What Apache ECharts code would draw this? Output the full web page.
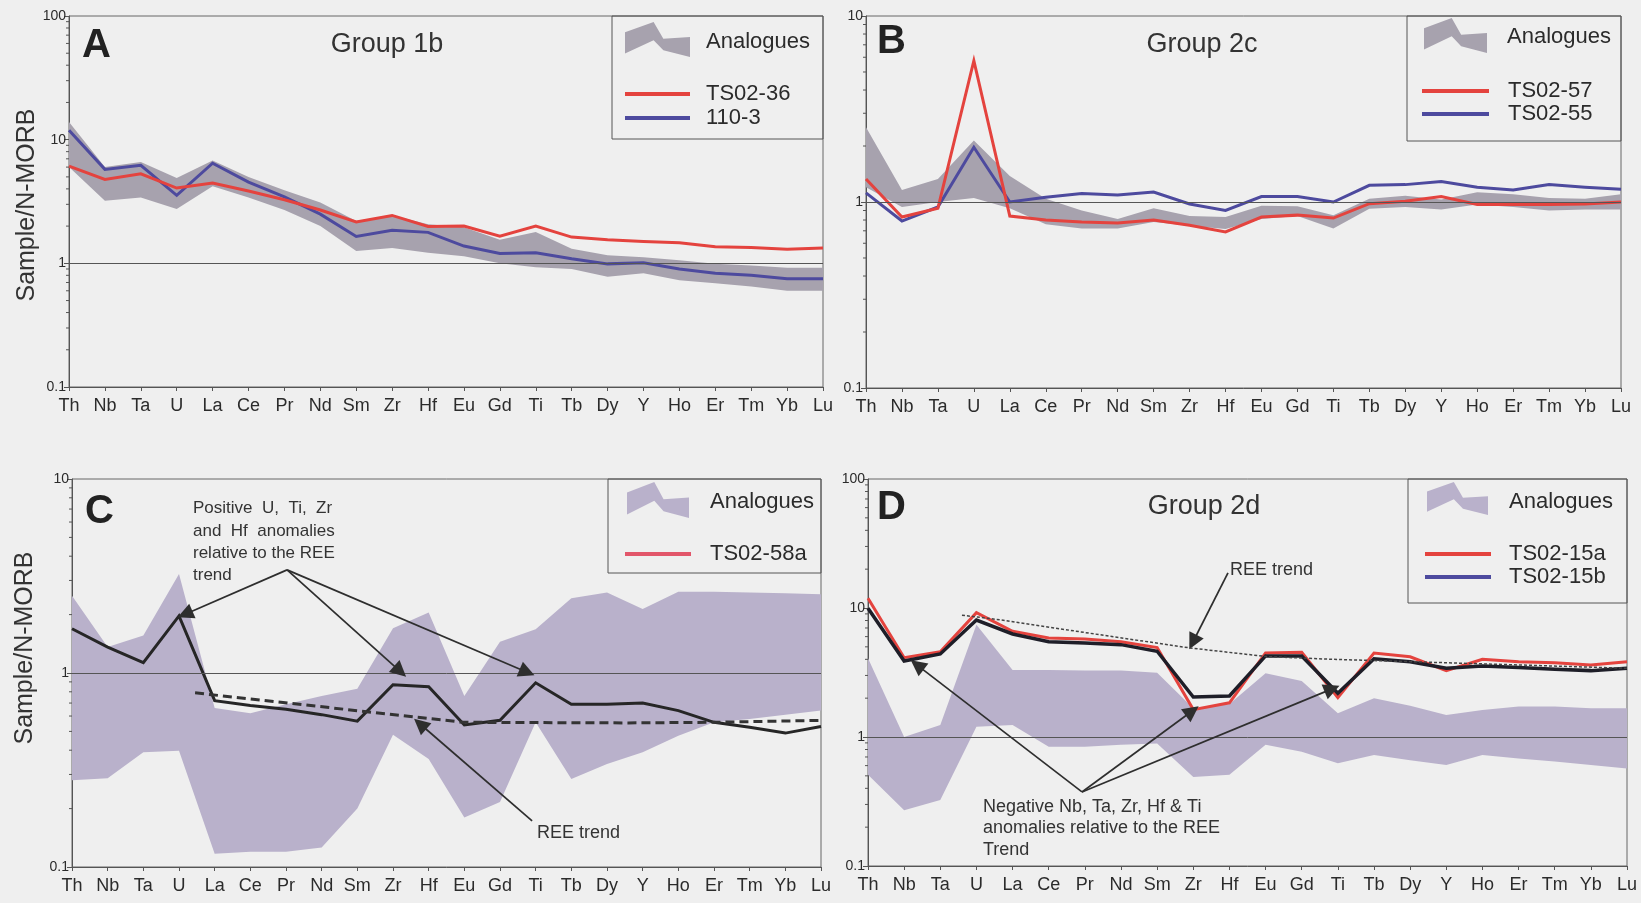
<!DOCTYPE html>
<html>
<head>
<meta charset="utf-8">
<script src="https://cdn.jsdelivr.net/npm/echarts@6/dist/echarts.min.js"></script>
<style>
  html, body { margin: 0; padding: 0; background: #efefef; }
  #wrap { position: relative; width: 1641px; height: 903px; overflow: hidden; }
  .panel { position: absolute; }
</style>
</head>
<body>
<div id="wrap">
  <div id="pA" class="panel" style="left:0;top:0;width:840px;height:435px"></div>
  <div id="pB" class="panel" style="left:830px;top:0;width:811px;height:435px"></div>
  <div id="pC" class="panel" style="left:0;top:440px;width:840px;height:463px"></div>
  <div id="pD" class="panel" style="left:830px;top:440px;width:811px;height:463px"></div>
</div>
<script>
// Element order of the N-MORB normalised spider diagrams
const elements = ['Th','Nb','Ta','U','La','Ce','Pr','Nd','Sm','Zr','Hf','Eu','Gd','Ti','Tb','Dy','Y','Ho','Er','Tm','Yb','Lu'];

// Log-axis minor tick values
const minorTicks3 = [0.2,0.3,0.4,0.5,0.6,0.7,0.8,0.9,2,3,4,5,6,7,8,9,20,30,40,50,60,70,80,90];
const minorTicks2 = [0.2,0.3,0.4,0.5,0.6,0.7,0.8,0.9,2,3,4,5,6,7,8,9];

// A - Group 1b
const aAnalogueUpper = [13.9, 6.0, 6.6, 4.9, 6.8, 5.0, 3.9, 3.1, 2.2, 2.45, 2.07, 1.96, 1.55, 1.79, 1.31, 1.16, 1.12, 1.06, 0.99, 0.96, 0.92, 0.92];
const aAnalogueLower = [6.0, 3.2, 3.4, 2.75, 4.2, 3.4, 2.7, 2.0, 1.26, 1.33, 1.22, 1.14, 1.0, 0.93, 0.9, 0.78, 0.83, 0.73, 0.69, 0.65, 0.6, 0.6];
const aTS0236 = [6.1, 4.77, 5.3, 4.06, 4.46, 3.84, 3.27, 2.7, 2.16, 2.44, 1.99, 2.0, 1.66, 2.0, 1.63, 1.55, 1.5, 1.47, 1.36, 1.34, 1.3, 1.33];
const a1103 = [11.9, 5.75, 6.2, 3.55, 6.45, 4.54, 3.44, 2.5, 1.65, 1.85, 1.78, 1.38, 1.2, 1.22, 1.09, 0.99, 1.01, 0.9, 0.83, 0.8, 0.75, 0.75];

// B - Group 2c
const bAnalogueUpper = [2.52, 1.16, 1.33, 2.14, 1.38, 1.04, 0.9, 0.81, 0.925, 0.84, 0.83, 0.955, 0.95, 0.85, 1.04, 1.08, 1.03, 1.13, 1.1, 1.05, 1.04, 1.1];
const bAnalogueLower = [1.2, 0.94, 1.0, 1.05, 0.925, 0.76, 0.72, 0.72, 0.78, 0.746, 0.716, 0.81, 0.84, 0.72, 0.92, 0.94, 0.91, 0.97, 0.94, 0.9, 0.91, 0.91];
const bTS0257 = [1.33, 0.83, 0.925, 5.75, 0.84, 0.80, 0.78, 0.77, 0.80, 0.75, 0.69, 0.83, 0.85, 0.82, 0.98, 1.01, 1.07, 0.97, 0.97, 0.97, 0.975, 1.0];
const bTS0255 = [1.12, 0.79, 0.94, 1.97, 1.0, 1.06, 1.11, 1.09, 1.13, 0.975, 0.9, 1.07, 1.07, 1.0, 1.23, 1.24, 1.29, 1.2, 1.16, 1.24, 1.2, 1.17];

// C - TS02-58a
const cAnalogueUpper = [2.5, 1.36, 1.56, 3.24, 0.66, 0.62, 0.69, 0.76, 0.83, 1.7, 2.05, 0.76, 1.45, 1.68, 2.43, 2.6, 2.14, 2.62, 2.62, 2.6, 2.58, 2.55];
const cAnalogueLower = [0.28, 0.287, 0.39, 0.397, 0.117, 0.12, 0.12, 0.126, 0.2, 0.48, 0.36, 0.18, 0.216, 0.557, 0.284, 0.34, 0.39, 0.475, 0.557, 0.58, 0.61, 0.64];
const cTS0258a = [1.69, 1.36, 1.13, 1.97, 0.72, 0.68, 0.65, 0.61, 0.565, 0.87, 0.85, 0.54, 0.57, 0.89, 0.69, 0.69, 0.70, 0.64, 0.557, 0.525, 0.49, 0.53];
// REE trend: [element position, value]
const cReeTrend = [[3.45, 0.79], [10.97, 0.557], [15.6, 0.553], [18, 0.557], [21, 0.57]];
// Annotation arrows: [from, to] in [element position, value]
const cArrows = [
  [[6.03, 3.4], [3.17, 2.01]],
  [[6.03, 3.4], [9.2, 1.02]],
  [[6.03, 3.4], [12.76, 1.01]],
  [[12.9, 0.173], [9.76, 0.546]]
];

// D - Group 2d
const dAnalogueUpper = [4.07, 1.0, 1.24, 7.4, 3.31, 3.3, 3.28, 3.28, 3.15, 1.67, 1.8, 3.12, 2.72, 1.53, 2.0, 1.75, 1.48, 1.62, 1.72, 1.72, 1.67, 1.67];
const dAnalogueLower = [0.51, 0.27, 0.325, 1.2, 1.24, 0.84, 0.84, 0.87, 0.89, 0.49, 0.51, 0.87, 0.77, 0.625, 0.725, 0.66, 0.607, 0.725, 0.68, 0.645, 0.607, 0.57];
const dTS0215a = [11.9, 4.12, 4.58, 9.2, 6.6, 5.85, 5.75, 5.48, 4.94, 1.63, 1.84, 4.48, 4.53, 2.02, 4.47, 4.19, 3.27, 4.0, 3.83, 3.77, 3.61, 3.83];
const dTS0215b = [9.95, 3.88, 4.4, 8.07, 6.29, 5.48, 5.35, 5.2, 4.62, 2.04, 2.08, 4.25, 4.25, 2.18, 4.04, 3.83, 3.41, 3.55, 3.45, 3.35, 3.27, 3.41];
const dReeTrend = [[2.6, 8.8], [3.65, 8.1], [6.42, 6.2], [8.91, 4.9], [11.04, 4.2], [12.87, 4.0], [16.46, 3.73], [21, 3.41]];
const dArrows = [
  [[5.92, 0.375], [1.36, 3.61]],
  [[5.92, 0.375], [8.97, 1.59]],
  [[5.92, 0.375], [12.84, 2.36]],
  [[9.96, 18.7], [8.99, 5.45]]
];

const FONT = "'Liberation Sans', Arial, Helvetica, sans-serif";
const INK = '#2b2b2b';
const RED = '#e4433e';
const BLUE = '#4d4a9e';
const GREY_BAND = '#a7a2ae';
const LILAC_BAND = '#b9b1cb';

function text(x, y, str, size, extra) {
  extra = extra || {};
  return {
    type: 'text', x: x, y: y, rotation: extra.rotation || 0, silent: true, z: 50,
    style: {
      text: str, fontSize: size, fontFamily: FONT, fontWeight: extra.weight || 'normal',
      fill: extra.color || INK,
      align: extra.align || 'left', textAlign: extra.align || 'left',
      verticalAlign: 'middle', textVerticalAlign: 'middle'
    }
  };
}

// Chevron-shaped swatch for the analogue envelope
function swatch(x, y, w, h, color) {
  const shape = [[0,0.29],[0.44,0],[0.59,0.48],[1,0.43],[1,1],[0.59,0.81],[0.44,0.52],[0,0.9]];
  return {
    type: 'polygon', silent: true, z: 50,
    shape: { points: shape.map(p => [x + p[0] * w, y + p[1] * h]) },
    style: { fill: color }
  };
}

function swatchLine(x1, x2, y, color) {
  return { type: 'line', silent: true, z: 50, shape: { x1: x1, y1: y, x2: x2, y2: y }, style: { stroke: color, lineWidth: 4 } };
}

function box(x, y, w, h) {
  return { type: 'rect', silent: true, z: 49, shape: { x: x, y: y, width: w, height: h }, style: { fill: 'none', stroke: '#555', lineWidth: 1 } };
}

// Filled envelope between lower and upper analogue values
function envelopeSeries(upper, lower, color) {
  return {
    type: 'custom', name: 'Analogues', silent: true, z: 1,
    xAxisIndex: 0, yAxisIndex: 0,
    data: elements.map((e, i) => [i, lower[i], upper[i]]),
    encode: { x: 0, y: [1, 2] },
    renderItem: function (params, api) {
      if (params.dataIndex !== 0) return null;
      const pts = [];
      for (let i = 0; i < upper.length; i++) pts.push(api.coord([i, upper[i]]));
      for (let i = lower.length - 1; i >= 0; i--) pts.push(api.coord([i, lower[i]]));
      return { type: 'polygon', shape: { points: pts }, style: { fill: color } };
    }
  };
}

// Short outward ticks at the log minor positions
function minorTickSeries(values) {
  return {
    type: 'custom', silent: true, z: 4, clip: false,
    xAxisIndex: 0, yAxisIndex: 0,
    data: values.map(v => [0, v]),
    encode: { x: 0, y: 1 },
    renderItem: function (params, api) {
      const p = api.coord([0, api.value(1)]);
      return { type: 'line', shape: { x1: p[0] - 3, y1: p[1], x2: p[0], y2: p[1] }, style: { stroke: '#555', lineWidth: 1 } };
    }
  };
}

function render(domId, spec) {
  const chart = echarts.init(document.getElementById(domId), null, { renderer: 'canvas' });
  const series = [envelopeSeries(spec.upper, spec.lower, spec.bandColor), minorTickSeries(spec.minor)];
  spec.lines.forEach(function (l, k) {
    const s = {
      type: 'line', name: l.name, data: l.data, xAxisIndex: 0, yAxisIndex: 0,
      symbol: 'none', silent: true, z: 3 + k,
      lineStyle: { color: l.color, width: l.width, join: 'miter' }
    };
    if (k === 0) {
      s.markLine = {
        silent: true, symbol: 'none', label: { show: false },
        lineStyle: { color: '#555', width: 1, type: 'solid' },
        data: [{ yAxis: 1 }]
      };
    }
    series.push(s);
  });
  if (spec.trend) {
    series.push({
      type: 'line', data: spec.trend, xAxisIndex: 1, yAxisIndex: 0,
      symbol: 'none', silent: true, z: 8,
      lineStyle: spec.trendStyle,
      markLine: {
        silent: true, symbol: ['none', 'triangle'], symbolSize: 16,
        label: { show: false },
        itemStyle: { color: '#222' },
        lineStyle: { color: '#2e2e2e', width: 1.7, type: 'solid' },
        data: spec.arrows.map(a => [{ coord: a[0] }, { coord: a[1] }])
      }
    });
  }
  chart.setOption({
    animation: false,
    grid: Object.assign({ show: true, borderColor: '#666', borderWidth: 1, backgroundColor: 'transparent' }, spec.grid),
    xAxis: [
      {
        type: 'category', data: elements, boundaryGap: false,
        axisLine: { lineStyle: { color: '#555', width: 1 } },
        axisTick: { show: true, length: 4, lineStyle: { color: '#555' } },
        axisLabel: { interval: 0, fontSize: 18, fontFamily: FONT, color: INK, margin: 10 },
        splitLine: { show: false }
      },
      { type: 'value', min: 0, max: 21, show: false }
    ],
    yAxis: {
      type: 'log', logBase: 10, min: spec.yMin, max: spec.yMax,
      axisLine: { show: true, lineStyle: { color: '#555', width: 1 } },
      axisTick: { show: true, length: 5, lineStyle: { color: '#555' } },
      axisLabel: { fontSize: 14, fontFamily: FONT, color: INK, margin: 3 },
      splitLine: { show: false },
      minorTick: { show: false }
    },
    series: series,
    graphic: spec.graphics
  });
}

// Panel A
render('pA', {
  grid: { left: 69, top: 16, width: 754, height: 371 },
  yMin: 0.1, yMax: 100, minor: minorTicks3,
  upper: aAnalogueUpper, lower: aAnalogueLower, bandColor: GREY_BAND,
  lines: [
    { name: '110-3', data: a1103, color: BLUE, width: 3 },
    { name: 'TS02-36', data: aTS0236, color: RED, width: 3 }
  ],
  graphics: [
    text(27, 205, 'Sample/N-MORB', 25, { rotation: Math.PI / 2, align: 'center', color: '#333' }),
    text(82, 46, 'A', 40, { weight: 'bold', color: '#222' }),
    text(387, 45, 'Group 1b', 27, { align: 'center', color: '#333' }),
    box(612, 16, 211, 123),
    swatch(625, 22, 65, 35, GREY_BAND),
    text(706, 42, 'Analogues', 22),
    swatchLine(625, 690, 94, RED),
    text(706, 94, 'TS02-36', 22),
    swatchLine(625, 690, 118, BLUE),
    text(706, 118, '110-3', 22)
  ]
});

// Panel B
render('pB', {
  grid: { left: 36, top: 16, width: 755, height: 372 },
  yMin: 0.1, yMax: 10, minor: minorTicks2,
  upper: bAnalogueUpper, lower: bAnalogueLower, bandColor: GREY_BAND,
  lines: [
    { name: 'TS02-55', data: bTS0255, color: BLUE, width: 3 },
    { name: 'TS02-57', data: bTS0257, color: RED, width: 3 }
  ],
  graphics: [
    text(47, 42, 'B', 40, { weight: 'bold', color: '#222' }),
    text(372, 45, 'Group 2c', 27, { align: 'center', color: '#333' }),
    box(577, 16, 214, 125),
    swatch(594, 18, 63, 35, GREY_BAND),
    text(677, 37, 'Analogues', 22),
    swatchLine(592, 659, 91, RED),
    text(678, 91, 'TS02-57', 22),
    swatchLine(592, 659, 114, BLUE),
    text(678, 114, 'TS02-55', 22)
  ]
});

// Panel C
render('pC', {
  grid: { left: 72, top: 39, width: 749, height: 388 },
  yMin: 0.1, yMax: 10, minor: minorTicks2,
  upper: cAnalogueUpper, lower: cAnalogueLower, bandColor: LILAC_BAND,
  lines: [
    { name: 'TS02-58a', data: cTS0258a, color: '#262626', width: 3 }
  ],
  trend: cReeTrend,
  trendStyle: { color: '#333', width: 3, type: [9, 5] },
  arrows: cArrows,
  graphics: [
    text(25, 208, 'Sample/N-MORB', 25, { rotation: Math.PI / 2, align: 'center', color: '#333' }),
    text(85, 72, 'C', 40, { weight: 'bold', color: '#222' }),
    box(608, 39, 213, 94),
    swatch(627, 42, 62, 36, LILAC_BAND),
    text(710, 62, 'Analogues', 22),
    swatchLine(625, 691, 114, '#e2566a'),
    text(710, 114, 'TS02-58a', 22),
    text(193, 68, 'Positive  U,  Ti,  Zr', 17, { color: '#333' }),
    text(193, 91, 'and  Hf  anomalies', 17, { color: '#333' }),
    text(193, 113, 'relative to the REE', 17, { color: '#333' }),
    text(193, 135, 'trend', 17, { color: '#333' }),
    text(537, 393, 'REE trend', 18, { color: '#333' })
  ]
});

// Panel D
render('pD', {
  grid: { left: 38, top: 39, width: 759, height: 387 },
  yMin: 0.1, yMax: 100, minor: minorTicks3,
  upper: dAnalogueUpper, lower: dAnalogueLower, bandColor: LILAC_BAND,
  lines: [
    { name: 'TS02-15a', data: dTS0215a, color: RED, width: 3 },
    { name: 'TS02-15b', data: dTS0215b, color: '#1e1e28', width: 3.5 }
  ],
  trend: dReeTrend,
  trendStyle: { color: '#444', width: 1.5, type: [3, 2] },
  arrows: dArrows,
  graphics: [
    text(47, 68, 'D', 40, { weight: 'bold', color: '#222' }),
    text(374, 67, 'Group 2d', 27, { align: 'center', color: '#333' }),
    box(578, 39, 219, 124),
    swatch(597, 42, 61, 33, LILAC_BAND),
    text(679, 62, 'Analogues', 22),
    swatchLine(595, 661, 114, RED),
    text(679, 114, 'TS02-15a', 22),
    swatchLine(595, 661, 137, BLUE),
    text(679, 137, 'TS02-15b', 22),
    text(400, 130, 'REE trend', 18, { color: '#333' }),
    text(153, 367, 'Negative Nb, Ta, Zr, Hf & Ti', 18, { color: '#333' }),
    text(153, 388, 'anomalies relative to the REE', 18, { color: '#333' }),
    text(153, 410, 'Trend', 18, { color: '#333' })
  ]
});
</script>
</body>
</html>
